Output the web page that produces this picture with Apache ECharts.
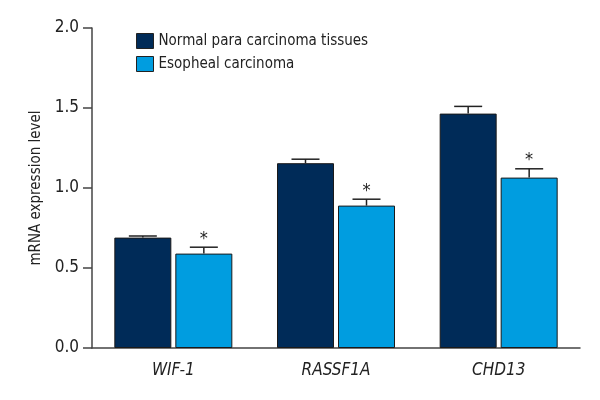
<!DOCTYPE html>
<html><head><meta charset="utf-8">
<script src="https://cdn.jsdelivr.net/npm/echarts@6/dist/echarts.min.js"></script>
<style>html,body{margin:0;padding:0;background:#fff}#c{width:600px;height:400px}</style>
</head><body><div id="c"></div>
<script>
const categories = ['WIF-1', 'RASSF1A', 'CHD13'];
const seriesNames = ['Normal para carcinoma tissues', 'Esopheal carcinoma'];
const normalValues = [0.69, 1.155, 1.465];
const normalErrors = [0.01, 0.025, 0.045];
const cancerValues = [0.59, 0.89, 1.065];
const cancerErrors = [0.04, 0.04, 0.055];
const significant = [true, true, true];
const yTicks = [0, 0.5, 1.0, 1.5, 2.0];

const FONT = '"Liberation Sans Narrow","DejaVu Sans Condensed","Roboto",sans-serif';
const colors = ['#002b58', '#009de0'];
const BAR_W = 57, BAR_GAP = 4;

function errorSeries(values, errors, idx, star) {
  return {
    type: 'custom',
    name: seriesNames[idx] + ' err',
    z: 5,
    data: values.map((v, i) => [i, v, v + errors[i], star && significant[i] ? 1 : 0]),
    renderItem: function (params, api) {
      const x = api.value(0);
      const base = api.coord([x, api.value(1)]);
      const top = api.coord([x, api.value(2)]);
      const off = (idx === 0 ? -1 : 1) * (BAR_W + BAR_GAP) / 2;
      const cx = base[0] + off;
      const half = 14;
      const children = [
        { type: 'line', shape: { x1: cx, y1: base[1], x2: cx, y2: top[1] }, style: { stroke: '#222', lineWidth: 1.5 } },
        { type: 'line', shape: { x1: cx - half, y1: top[1], x2: cx + half, y2: top[1] }, style: { stroke: '#222', lineWidth: 1.5 } }
      ];
      if (api.value(3)) {
        children.push({ type: 'text', style: { text: '*', x: cx, y: top[1] + 1, align: 'center', verticalAlign: 'bottom', fontSize: 18, fontFamily: FONT, fill: '#222' } });
      }
      return { type: 'group', children: children };
    },
    silent: true
  };
}

const chart = echarts.init(document.getElementById('c'), null, { renderer: 'canvas' });
chart.setOption({
  animation: false,
  textStyle: { fontFamily: FONT },
  legend: {
    orient: 'vertical', left: 136, top: 33, padding: 0, itemWidth: 17, itemHeight: 15, itemGap: 7,
    icon: 'rect',
    data: seriesNames,
    textStyle: { fontSize: 15, color: '#222', fontFamily: FONT },
    itemStyle: { borderColor: '#222', borderWidth: 1 }
  },
  grid: { left: 92, right: 20, top: 28, bottom: 52 },
  xAxis: {
    type: 'category', data: categories,
    axisLine: { lineStyle: { color: '#444', width: 1.5 } },
    axisTick: { show: false },
    axisLabel: { fontSize: 17, fontStyle: 'italic', color: '#222', margin: 14, fontFamily: FONT }
  },
  yAxis: {
    type: 'value', min: 0, max: 2, interval: 0.5,
    name: 'mRNA expression level', nameLocation: 'middle', nameGap: 46,
    nameTextStyle: { fontSize: 15, color: '#222', fontFamily: FONT },
    axisLine: { show: true, lineStyle: { color: '#444', width: 1.5 } },
    axisTick: { show: true, length: 9, lineStyle: { color: '#444', width: 1.5 } },
    splitLine: { show: false },
    axisLabel: { fontSize: 17, color: '#222', margin: 13, fontFamily: FONT, formatter: v => v.toFixed(1) }
  },
  series: [
    { type: 'bar', name: seriesNames[0], data: normalValues, barWidth: BAR_W, barGap: (BAR_GAP / BAR_W * 100) + '%',
      itemStyle: { color: colors[0], borderColor: '#1a1a1a', borderWidth: 1 } },
    { type: 'bar', name: seriesNames[1], data: cancerValues, barWidth: BAR_W,
      itemStyle: { color: colors[1], borderColor: '#1a1a1a', borderWidth: 1 } },
    errorSeries(normalValues, normalErrors, 0, false),
    errorSeries(cancerValues, cancerErrors, 1, true)
  ]
});
</script></body></html>
